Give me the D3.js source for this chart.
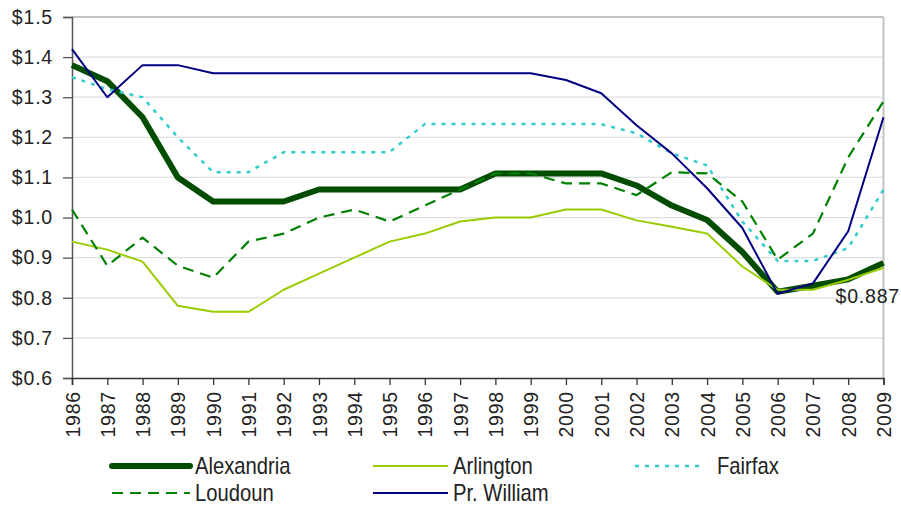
<!DOCTYPE html>
<html>
<head>
<meta charset="utf-8">
<script src="https://cdn.jsdelivr.net/npm/d3@7"></script>
<style>
  body { margin: 0; background: #fff; }
  text { font-family: "Liberation Sans", Arial, sans-serif; fill: #222; }
</style>
</head>
<body>
<script>
// years on the x axis
let years = d3.range(1986, 2010);

// series values (dollars)
let alexandria = [1.38, 1.34, 1.25, 1.10, 1.04, 1.04, 1.04, 1.07, 1.07, 1.07, 1.07, 1.07, 1.11, 1.11, 1.11, 1.11, 1.08, 1.03, 0.994, 0.914, 0.815, 0.83, 0.846, 0.887];
let arlington = [0.94, 0.92, 0.89, 0.78, 0.765, 0.765, 0.82, 0.86, 0.90, 0.94, 0.96, 0.99, 1.00, 1.00, 1.02, 1.02, 0.993, 0.977, 0.96, 0.878, 0.82, 0.82, 0.845, 0.875];
let fairfax = [1.35, 1.32, 1.30, 1.20, 1.113, 1.113, 1.163, 1.163, 1.163, 1.163, 1.233, 1.233, 1.233, 1.233, 1.233, 1.233, 1.21, 1.16, 1.13, 0.99, 0.892, 0.892, 0.924, 1.07];
let loudoun = [1.02, 0.88, 0.95, 0.88, 0.85, 0.94, 0.96, 1.00, 1.02, 0.99, 1.03, 1.07, 1.11, 1.11, 1.085, 1.085, 1.056, 1.113, 1.11, 1.04, 0.895, 0.96, 1.15, 1.29];
let prWilliam = [1.42, 1.30, 1.38, 1.38, 1.36, 1.36, 1.36, 1.36, 1.36, 1.36, 1.36, 1.36, 1.36, 1.36, 1.343, 1.31, 1.23, 1.16, 1.073, 0.974, 0.81, 0.836, 0.966, 1.25];

let yTicks = [0.6, 0.7, 0.8, 0.9, 1.0, 1.1, 1.2, 1.3, 1.4, 1.5];
let endLabel = "$0.887";

// series styles
let series = [
  { name: "Alexandria", values: alexandria, color: "#004d00", width: 6, dash: null },
  { name: "Arlington", values: arlington, color: "#99cc00", width: 2, dash: null },
  { name: "Fairfax", values: fairfax, color: "#33cccc", width: 2.5, dash: "4,6" },
  { name: "Loudoun", values: loudoun, color: "#008000", width: 2.2, dash: "11,7" },
  { name: "Pr. William", values: prWilliam, color: "#000080", width: 2, dash: null }
];

// plot box
let margin = { top: 17, left: 72, right: 17, bottom: 128 };
let fullWidth = 901, fullHeight = 506;
let fontSize = "19.5px";
let spacing = "0.8px";

let svg = d3.select("body").append("svg")
  .attr("width", fullWidth)
  .attr("height", fullHeight);

let xScale = d3.scaleLinear()
  .domain([1986, 2009])
  .range([margin.left, fullWidth - margin.right - 0.5]);

let yScale = d3.scaleLinear()
  .domain([0.6, 1.5])
  .range([fullHeight - margin.bottom, margin.top]);

// gridlines
svg.append("g")
  .selectAll("line")
  .data(yTicks.slice(1))
  .enter()
  .append("line")
  .attr("x1", xScale(1986))
  .attr("x2", xScale(2009))
  .attr("y1", d => yScale(d))
  .attr("y2", d => yScale(d))
  .attr("stroke", d => d == 1.5 ? "#c4c4c4" : "#e0e0e0")
  .attr("stroke-width", d => d == 1.5 ? 2 : 1.3);

// right border
svg.append("line")
  .attr("x1", xScale(2009)).attr("x2", xScale(2009))
  .attr("y1", yScale(1.5)).attr("y2", yScale(0.6))
  .attr("stroke", "#c4c4c4").attr("stroke-width", 2);

// y axis
let yAxis = d3.axisLeft(yScale)
  .tickValues(yTicks)
  .tickSize(9)
  .tickFormat(d => "$" + d3.format(".1f")(d));

let yG = svg.append("g")
  .attr("transform", "translate(" + margin.left + ",0)")
  .call(yAxis);
yG.select(".domain").attr("stroke", "#555").attr("stroke-width", 1.5);
yG.selectAll(".tick line").attr("stroke", "#555").attr("stroke-width", 1.3);
yG.selectAll(".tick text")
  .attr("x", -19)
  .style("font-size", fontSize)
  .style("letter-spacing", spacing)
  .style("fill", "#222");

// x axis
let xAxis = d3.axisBottom(xScale)
  .tickValues(years)
  .tickSize(7)
  .tickFormat(d3.format("d"));

let xG = svg.append("g")
  .attr("transform", "translate(0," + yScale(0.6) + ")")
  .call(xAxis);
xG.select(".domain").attr("stroke", "#333").attr("stroke-width", 1.5);
xG.selectAll(".tick line").attr("stroke", "#333").attr("stroke-width", 1.3);
xG.selectAll(".tick text")
  .attr("transform", "rotate(-90)")
  .attr("x", -13)
  .attr("y", 0)
  .attr("dy", "0.36em")
  .style("text-anchor", "end")
  .style("font-size", fontSize)
  .style("letter-spacing", spacing)
  .style("fill", "#222");

// lines
let line = d3.line()
  .x((d, i) => xScale(years[i]))
  .y(d => yScale(d));

series.forEach(s => {
  svg.append("path")
    .datum(s.values)
    .attr("fill", "none")
    .attr("stroke", s.color)
    .attr("stroke-width", s.width)
    .attr("stroke-dasharray", s.dash)
    .attr("stroke-linejoin", "round")
    .attr("d", line);
});

// end value label
svg.append("text")
  .attr("x", 900)
  .attr("y", 303)
  .attr("text-anchor", "end")
  .style("font-size", fontSize)
  .style("letter-spacing", spacing)
  .text(endLabel);

// legend
let legendPos = [
  { x: 112, y: 466 }, { x: 373, y: 466 }, { x: 635, y: 466 },
  { x: 112, y: 493 }, { x: 373, y: 493 }
];

let legend = svg.append("g");
series.forEach((s, i) => {
  let p = legendPos[i];
  let len = s.name == "Fairfax" ? 66 : (i % 3 == 0 ? 78 : 75);
  legend.append("line")
    .attr("x1", p.x).attr("x2", p.x + len)
    .attr("y1", p.y).attr("y2", p.y)
    .attr("stroke", s.color)
    .attr("stroke-width", s.width)
    .attr("stroke-linecap", s.name == "Alexandria" ? "round" : "butt")
    .attr("stroke-dasharray", s.dash);
  // legend font is tall and condensed
  legend.append("text")
    .attr("transform", "translate(" + (p.x + len + (s.name == "Fairfax" ? 16 : 5)) + "," + (p.y + 8) + ") scale(0.88,1)")
    .style("font-size", "23px")
    .text(s.name);
});
</script>
</body>
</html>
